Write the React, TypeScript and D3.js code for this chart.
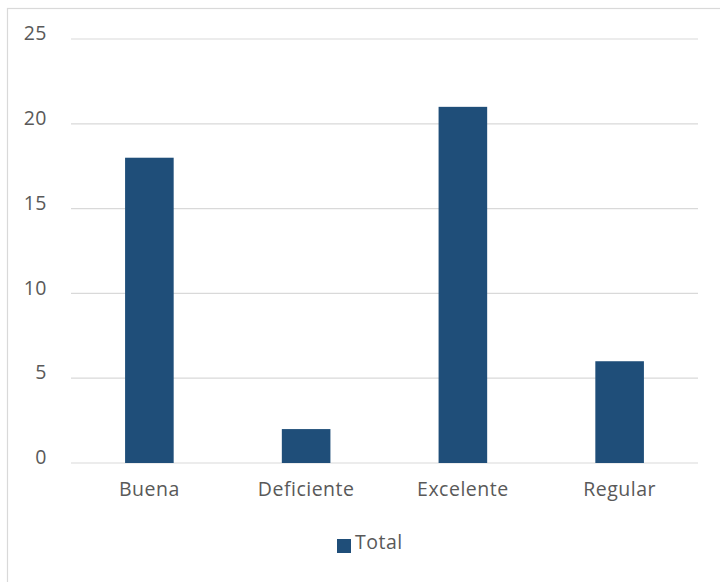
import React from "react";
import * as d3 from "d3";

const categories = ["Buena", "Deficiente", "Excelente", "Regular"];
const totals = [18, 2, 21, 6];
const yTicks = [0, 5, 10, 15, 20, 25];
const seriesName = "Total";

export default function App() {
  const W = 720, H = 582;
  const left = 71, right = 698, top = 39, bottom = 463;
  const x = d3.scaleBand<string>().domain(categories).range([left, right]).paddingInner(0.69).paddingOuter(0.345);
  const y = d3.scaleLinear().domain([0, 25]).range([bottom, top]);
  const font = "'Open Sans', 'Noto Sans', sans-serif";
  const txt = "#595959";
  const fs = 19.5;
  return (
    <svg width={W} height={H} style={{ position: "absolute", left: 0, top: 0 }} fontFamily={font} letterSpacing={0.5}>
      <rect x={0} y={0} width={W} height={H} fill="#fff" />
      <rect x={7.5} y={8.5} width={730} height={590} fill="none" stroke="#d9d9d9" strokeWidth={1.2} />
      {yTicks.map((t) => (
        <g key={t}>
          <line x1={left} x2={right} y1={y(t)} y2={y(t)} stroke="#d9d9d9" strokeWidth={1.2} />
          <text x={47} y={y(t) - 4} textAnchor="end" dominantBaseline="middle" fontSize={fs} fill={txt}>{t}</text>
        </g>
      ))}
      {categories.map((c, i) => (
        <g key={c}>
          <rect x={x(c)!} y={y(totals[i])} width={x.bandwidth()} height={y(0) - y(totals[i])} fill="#1F4E79" />
          <text x={x(c)! + x.bandwidth() / 2} y={491} textAnchor="middle" dominantBaseline="middle" fontSize={fs} fill={txt}>{c}</text>
        </g>
      ))}
      <rect x={337} y={539} width={14} height={14} fill="#1F4E79" />
      <text x={355} y={544} dominantBaseline="middle" fontSize={fs} fill={txt}>{seriesName}</text>
    </svg>
  );
}
